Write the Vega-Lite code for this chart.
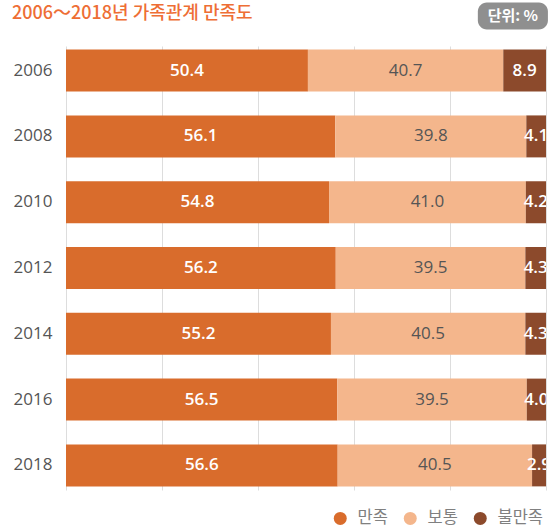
{
  "$schema": "https://vega.github.io/schema/vega-lite/v6.json",
  "width": 480,
  "height": 444,
  "autosize": {"type": "none"},
  "padding": {"left": 66, "top": 46, "right": 8, "bottom": 41},
  "background": "white",
  "title": {
    "text": "2006～2018년 가족관계 만족도",
    "anchor": "start",
    "frame": "group",
    "baseline": "alphabetic",
    "offset": -34,
    "dx": -54,
    "font": "Noto Sans CJK KR",
    "fontSize": 18,
    "fontWeight": 500,
    "color": "#EE6E35"
  },
  "config": {
    "view": {"stroke": null},
    "font": "Noto Sans CJK KR",
    "axisY": {"domain": false, "ticks": false, "grid": false, "labelFontSize": 17, "labelColor": "#555555", "labelPadding": 14, "title": null, "labelFont": "Open Sans"},
    "axisX": {"domain": false, "ticks": false, "labels": false, "grid": true, "gridColor": "#dddddd", "title": null},
    "legend": {"orient": "none", "legendX": 266, "legendY": 464, "direction": "horizontal", "symbolType": "circle", "symbolSize": 169, "symbolStrokeWidth": 0, "symbolOpacity": 1, "labelFontSize": 16.5, "labelColor": "#808080", "labelFont": "Noto Sans CJK KR", "labelOffset": 9, "columnPadding": 14, "title": null}
  },
  "data": {
    "values": [
      {"year": "2006", "category": "만족", "order": 1, "value": 50.4},
      {"year": "2006", "category": "보통", "order": 2, "value": 40.7},
      {"year": "2006", "category": "불만족", "order": 3, "value": 8.9},
      {"year": "2008", "category": "만족", "order": 1, "value": 56.1},
      {"year": "2008", "category": "보통", "order": 2, "value": 39.8},
      {"year": "2008", "category": "불만족", "order": 3, "value": 4.1},
      {"year": "2010", "category": "만족", "order": 1, "value": 54.8},
      {"year": "2010", "category": "보통", "order": 2, "value": 41.0},
      {"year": "2010", "category": "불만족", "order": 3, "value": 4.2},
      {"year": "2012", "category": "만족", "order": 1, "value": 56.2},
      {"year": "2012", "category": "보통", "order": 2, "value": 39.5},
      {"year": "2012", "category": "불만족", "order": 3, "value": 4.3},
      {"year": "2014", "category": "만족", "order": 1, "value": 55.2},
      {"year": "2014", "category": "보통", "order": 2, "value": 40.5},
      {"year": "2014", "category": "불만족", "order": 3, "value": 4.3},
      {"year": "2016", "category": "만족", "order": 1, "value": 56.5},
      {"year": "2016", "category": "보통", "order": 2, "value": 39.5},
      {"year": "2016", "category": "불만족", "order": 3, "value": 4.0},
      {"year": "2018", "category": "만족", "order": 1, "value": 56.6},
      {"year": "2018", "category": "보통", "order": 2, "value": 40.5},
      {"year": "2018", "category": "불만족", "order": 3, "value": 2.9}
    ]
  },
  "transform": [
    {"stack": "value", "groupby": ["year"], "sort": [{"field": "order", "order": "ascending"}], "as": ["x0", "x1"]},
    {"calculate": "(datum.x0 + datum.x1) / 2", "as": "xm"}
  ],
  "encoding": {
    "y": {"field": "year", "type": "ordinal", "scale": {"paddingInner": 0.362, "paddingOuter": 0.055}, "axis": {}}
  },
  "layer": [
    {
      "mark": {"type": "bar"},
      "encoding": {
        "x": {"field": "x0", "type": "quantitative", "scale": {"domain": [0, 100], "nice": false}, "axis": {"values": [0, 20, 40, 60, 80, 100]}},
        "x2": {"field": "x1"},
        "color": {"field": "category", "type": "nominal", "sort": ["만족", "보통", "불만족"], "scale": {"domain": ["만족", "보통", "불만족"], "range": ["#D96C2C", "#F4B68C", "#8C4A2C"]}}
      }
    },
    {
      "transform": [{"filter": "datum.category === '보통'"}],
      "mark": {"type": "text", "font": "Open Sans", "fontSize": 17, "color": "#555555", "baseline": "middle", "align": "center", "clip": true},
      "encoding": {
        "x": {"field": "xm", "type": "quantitative"},
        "text": {"field": "value", "type": "quantitative", "format": ".1f"}
      }
    },
    {
      "transform": [{"filter": "datum.category !== '보통'"}],
      "mark": {"type": "text", "font": "Open Sans", "fontSize": 17, "fontWeight": 600, "color": "white", "baseline": "middle", "align": "center", "clip": true},
      "encoding": {
        "x": {"field": "xm", "type": "quantitative"},
        "text": {"field": "value", "type": "quantitative", "format": ".1f"}
      }
    },
    {
      "data": {"values": [{"label": "단위: %"}]},
      "transform": [],
      "mark": {"type": "bar", "height": 27, "yOffset": -54.5, "cornerRadius": 9, "color": "#8F8F8F"},
      "encoding": {
        "x": {"datum": 85.8, "type": "quantitative"},
        "x2": {"datum": 100.4},
        "y": {"datum": "2006", "type": "ordinal"}
      }
    },
    {
      "data": {"values": [{"label": "단위: %"}]},
      "mark": {"type": "text", "yOffset": -54.5, "fontSize": 15, "fontWeight": "bold", "color": "white", "baseline": "middle", "align": "center"},
      "encoding": {
        "x": {"datum": 93.1, "type": "quantitative"},
        "y": {"datum": "2006", "type": "ordinal"},
        "text": {"field": "label"}
      }
    }
  ]
}
